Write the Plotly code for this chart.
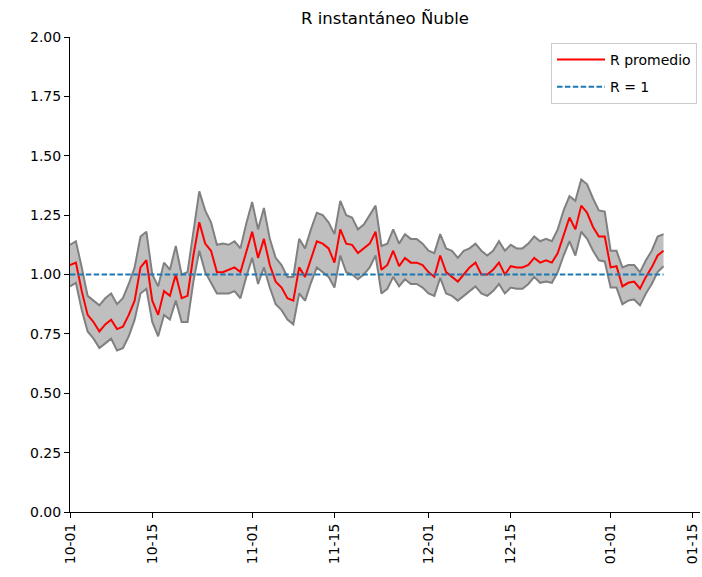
import pandas as pd
import plotly.graph_objects as go

start_date = "2020-10-01"
r_mean = [1.04, 1.05, 0.93, 0.83, 0.80, 0.76, 0.79, 0.81, 0.77, 0.78,
          0.83, 0.89, 1.03, 1.06, 0.89, 0.83, 0.93, 0.91, 1.00, 0.90,
          0.91, 1.08, 1.22, 1.13, 1.10, 1.01, 1.01, 1.02, 1.03, 1.01,
          1.10, 1.18, 1.07, 1.15, 1.04, 0.97, 0.945, 0.90, 0.89, 1.03,
          0.99, 1.07, 1.14, 1.13, 1.11, 1.05, 1.19, 1.13, 1.125, 1.09,
          1.11, 1.13, 1.18, 1.02, 1.04, 1.10, 1.035, 1.07, 1.05, 1.05,
          1.04, 1.01, 0.99, 1.08, 1.01, 0.99, 0.97, 1.00, 1.03, 1.05,
          1.00, 1.00, 1.02, 1.05, 1.00, 1.035, 1.03, 1.03, 1.04, 1.07,
          1.05, 1.06, 1.05, 1.09, 1.17, 1.24, 1.19, 1.29, 1.26, 1.20,
          1.16, 1.16, 1.03, 1.035, 0.95, 0.965, 0.97, 0.94, 0.99, 1.03,
          1.08, 1.10]
r_upper = [1.125, 1.14, 1.03, 0.91, 0.89, 0.87, 0.90, 0.92, 0.875, 0.90,
           0.96, 1.03, 1.16, 1.18, 1.00, 0.95, 1.05, 1.02, 1.12, 1.00,
           1.01, 1.19, 1.35, 1.27, 1.22, 1.125, 1.13, 1.125, 1.14, 1.11,
           1.215, 1.305, 1.19, 1.28, 1.15, 1.07, 1.04, 0.99, 0.99, 1.15,
           1.11, 1.19, 1.26, 1.25, 1.22, 1.17, 1.31, 1.25, 1.24, 1.19,
           1.21, 1.25, 1.29, 1.12, 1.13, 1.19, 1.13, 1.17, 1.15, 1.15,
           1.13, 1.10, 1.09, 1.17, 1.11, 1.10, 1.07, 1.10, 1.11, 1.13,
           1.10, 1.08, 1.10, 1.14, 1.10, 1.125, 1.11, 1.11, 1.13, 1.16,
           1.14, 1.15, 1.14, 1.19, 1.27, 1.33, 1.31, 1.40, 1.38, 1.32,
           1.27, 1.265, 1.10, 1.10, 1.03, 1.04, 1.04, 1.01, 1.06, 1.10,
           1.16, 1.17]
r_lower = [0.95, 0.965, 0.85, 0.76, 0.73, 0.69, 0.71, 0.73, 0.68, 0.69,
           0.74, 0.81, 0.92, 0.94, 0.80, 0.74, 0.83, 0.81, 0.89, 0.80,
           0.80, 0.97, 1.10, 1.01, 0.965, 0.92, 0.92, 0.92, 0.93, 0.90,
           0.99, 1.07, 0.96, 1.03, 0.945, 0.875, 0.85, 0.81, 0.79, 0.92,
           0.89, 0.965, 1.03, 1.01, 0.99, 0.945, 1.08, 1.01, 1.00, 0.98,
           1.00, 1.03, 1.08, 0.92, 0.94, 0.99, 0.95, 0.98, 0.96, 0.96,
           0.945, 0.92, 0.91, 0.986, 0.92, 0.91, 0.89, 0.91, 0.93, 0.95,
           0.92, 0.91, 0.93, 0.96, 0.92, 0.945, 0.94, 0.94, 0.96, 0.99,
           0.965, 0.97, 0.965, 1.01, 1.08, 1.14, 1.08, 1.18, 1.15, 1.10,
           1.06, 1.055, 0.945, 0.945, 0.875, 0.89, 0.895, 0.87, 0.92, 0.96,
           1.01, 1.035]
x_tick_dates = ["2020-10-01", "2020-10-15", "2020-11-01", "2020-11-15",
                "2020-12-01", "2020-12-15", "2021-01-01", "2021-01-15"]
x_tick_labels = ["10-01", "10-15", "11-01", "11-15", "12-01", "12-15", "01-01", "01-15"]
y_ticks = [0, 0.25, 0.5, 0.75, 1.0, 1.25, 1.5, 1.75, 2.0]
reference_value = 1.0

dates = pd.date_range(start_date, periods=len(r_mean), freq="D")

fig = go.Figure()
fig.add_trace(go.Scatter(x=dates, y=r_upper, mode="lines",
                         line=dict(color="gray", width=2), showlegend=False,
                         hoverinfo="skip"))
fig.add_trace(go.Scatter(x=dates, y=r_lower, mode="lines",
                         line=dict(color="gray", width=2), fill="tonexty",
                         fillcolor="rgba(128,128,128,0.5)", showlegend=False,
                         hoverinfo="skip"))
fig.add_trace(go.Scatter(x=dates, y=r_mean, mode="lines", name="R promedio",
                         legendgroup="g1",
                         line=dict(color="red", width=2)))
fig.add_trace(go.Scatter(x=dates, y=[reference_value] * len(dates), mode="lines",
                         name="R = 1", legendgroup="g2",
                         line=dict(color="#1f77b4", width=2, dash="5.5px,2.4px")))

font_family = "DejaVu Sans"
fig.update_layout(
    width=702, height=577,
    margin=dict(l=70, r=2, t=37, b=65, autoexpand=False),
    paper_bgcolor="white", plot_bgcolor="white",
    font=dict(family=font_family, size=14, color="black"),
    title=dict(text="R instantáneo Ñuble", x=385 / 702, xanchor="center",
               y=1 - 18 / 577, yanchor="middle",
               font=dict(family=font_family, size=16.5, color="black")),
    showlegend=True,
    legend=dict(x=(697 - 70) / 630, y=(512 - 43) / 475, xanchor="right", yanchor="top",
                bgcolor="rgba(255,255,255,0.8)", bordercolor="#cccccc", borderwidth=1,
                font=dict(family=font_family, size=14, color="black"),
                traceorder="grouped", itemwidth=48, tracegroupgap=6),
    xaxis=dict(
        range=["2020-10-01", "2021-01-16 05:00"], automargin=False,
        tickmode="array", tickvals=x_tick_dates, ticktext=x_tick_labels,
        tickangle=-90, ticks="outside", ticklen=5, tickwidth=1, tickcolor="black",
        showline=True, linecolor="black", linewidth=1, mirror=False,
        showgrid=False, zeroline=False,
        tickfont=dict(family=font_family, size=14, color="black"),
    ),
    yaxis=dict(
        range=[0, 2], tickmode="array", tickvals=y_ticks, automargin=False,
        ticktext=[f"{v:.2f}" for v in y_ticks],
        ticks="outside", ticklen=5, tickwidth=1, tickcolor="black",
        showline=True, linecolor="black", linewidth=1, mirror=False,
        showgrid=False, zeroline=False,
        tickfont=dict(family=font_family, size=14, color="black"),
    ),
)

fig.write_html("out.html", config={"displayModeBar": False},
               post_script="document.body.style.margin='0px';")
